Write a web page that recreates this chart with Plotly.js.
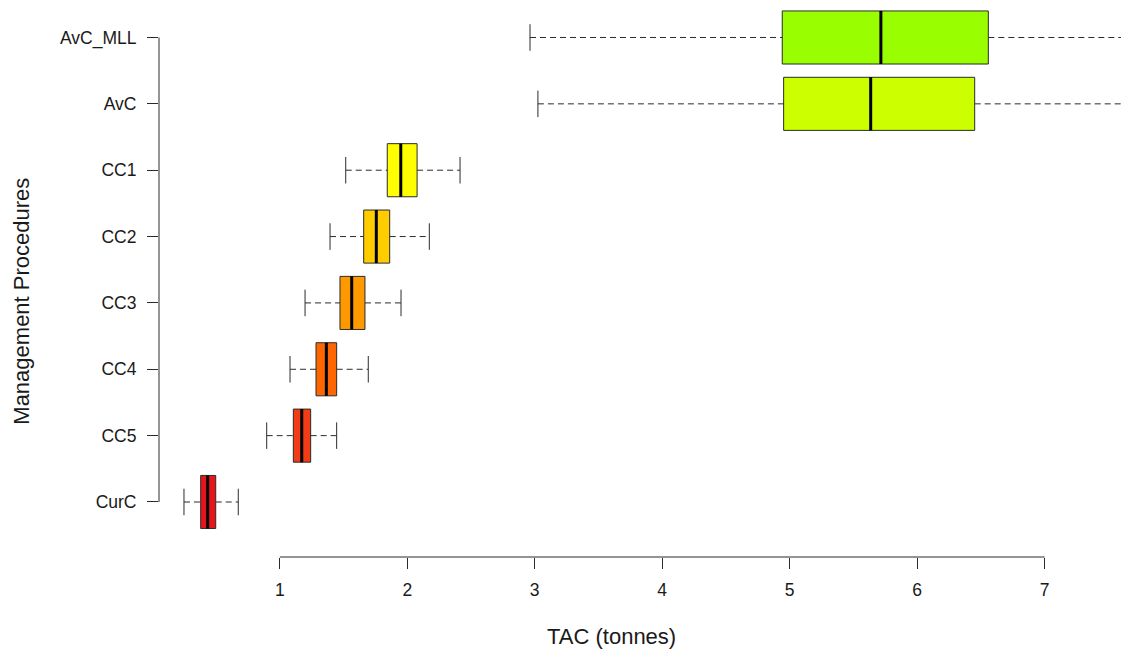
<!DOCTYPE html>
<html>
<head>
<meta charset="utf-8">
<script src="https://cdn.plot.ly/plotly-3.0.1.min.js"></script>
<style>
  html, body { margin: 0; padding: 0; background: #ffffff; overflow: hidden; }
  #chart { width: 1121px; height: 655px; }
</style>
</head>
<body>
<div id="chart"></div>
<script>
// Management procedures, bottom to top
const categories = ['CurC', 'CC5', 'CC4', 'CC3', 'CC2', 'CC1', 'AvC', 'AvC_MLL'];

// Five-number summaries of TAC (tonnes) per procedure
const whiskerLow  = [0.248, 0.897, 1.080, 1.198, 1.394, 1.517, 3.025, 2.963];
const q1          = [0.379, 1.106, 1.284, 1.472, 1.658, 1.843, 4.953, 4.942];
const median      = [0.434, 1.172, 1.365, 1.564, 1.757, 1.949, 5.636, 5.716];
const q3          = [0.497, 1.242, 1.446, 1.668, 1.862, 2.077, 6.452, 6.559];
const whiskerHigh = [0.674, 1.446, 1.694, 1.951, 2.173, 2.414, 7.85, 7.90];

const boxColors = ['#E8141C', '#F23D14', '#FF6600', '#FF9900', '#FFCC00', '#FFFF00', '#CCFF00', '#99FF00'];

const xTicks = [1, 2, 3, 4, 5, 6, 7];

// Box geometry in category units (base-R style boxwex / staplewex)
const boxWidth = 0.8;
const capWidth = boxWidth * 0.5;

const positions = categories.map((_, i) => i + 1);
const ink = '#2b2b2b';
const fontFamily = '"Liberation Sans", Arial, sans-serif';

const traces = [];

// Boxes: quartile rectangles only, whiskers are drawn separately (dashed)
categories.forEach((name, i) => {
  traces.push({
    type: 'box',
    orientation: 'h',
    name: name,
    y: [positions[i]],
    q1: [q1[i]],
    median: [median[i]],
    q3: [q3[i]],
    lowerfence: [q1[i]],
    upperfence: [q3[i]],
    width: boxWidth,
    whiskerwidth: 0,
    boxpoints: false,
    fillcolor: boxColors[i],
    line: { color: ink, width: 1 },
    hoverinfo: 'skip'
  });
});

// Dashed whiskers
const wx = [], wy = [];
categories.forEach((_, i) => {
  const p = positions[i];
  wx.push(whiskerLow[i], q1[i], null, q3[i], whiskerHigh[i], null);
  wy.push(p, p, null, p, p, null);
});
traces.push({
  type: 'scatter', mode: 'lines', x: wx, y: wy,
  line: { color: ink, width: 1, dash: '6px,4px' },
  hoverinfo: 'skip'
});

// Whisker end caps
const cx = [], cy = [];
categories.forEach((_, i) => {
  const p = positions[i];
  cx.push(whiskerLow[i], whiskerLow[i], null, whiskerHigh[i], whiskerHigh[i], null);
  cy.push(p - capWidth / 2, p + capWidth / 2, null, p - capWidth / 2, p + capWidth / 2, null);
});
traces.push({
  type: 'scatter', mode: 'lines', x: cx, y: cy,
  line: { color: ink, width: 1 },
  hoverinfo: 'skip'
});

// Heavy median bars
const mx = [], my = [];
categories.forEach((_, i) => {
  const p = positions[i];
  mx.push(median[i], median[i], null);
  my.push(p - boxWidth / 2, p + boxWidth / 2, null);
});
traces.push({
  type: 'scatter', mode: 'lines', x: mx, y: my,
  line: { color: '#000000', width: 3 },
  hoverinfo: 'skip'
});

const axisCommon = {
  showgrid: false,
  zeroline: false,
  showline: false,
  ticks: 'outside',
  ticklen: 11,
  tickwidth: 1,
  tickcolor: ink,
  tickfont: { family: fontFamily, size: 17.5, color: '#1a1a1a' },
  fixedrange: true
};

const layout = {
  width: 1121,
  height: 655,
  margin: { l: 159, r: 0, t: 0, b: 98 },
  paper_bgcolor: '#ffffff',
  plot_bgcolor: '#ffffff',
  showlegend: false,
  xaxis: Object.assign({}, axisCommon, {
    range: [0.052, 7.600],
    tickmode: 'array',
    tickvals: xTicks,
    ticktext: xTicks.map(String),
    ticklabelstandoff: 6
  }),
  yaxis: Object.assign({}, axisCommon, {
    range: [0.171, 8.565],
    tickmode: 'array',
    tickvals: positions,
    ticktext: categories,
    ticklabelstandoff: 7
  }),
  shapes: [
    // bottom axis line spanning first to last tick
    { type: 'line', xref: 'x', yref: 'paper',
      x0: xTicks[0], x1: xTicks[xTicks.length - 1], y0: 0, y1: 0,
      line: { color: ink, width: 1 } },
    // left axis line spanning first to last category
    { type: 'line', xref: 'paper', yref: 'y',
      x0: 0, x1: 0, y0: positions[0], y1: positions[positions.length - 1],
      line: { color: ink, width: 1 } }
  ],
  annotations: [
    { text: 'TAC (tonnes)', xref: 'paper', yref: 'paper',
      x: 0.4703, y: -0.1436, xanchor: 'center', yanchor: 'middle',
      showarrow: false, font: { family: fontFamily, size: 22, color: '#1a1a1a' } },
    { text: 'Management Procedures', xref: 'paper', yref: 'paper',
      x: -0.1425, y: 0.46, xanchor: 'center', yanchor: 'middle', textangle: -90,
      showarrow: false, font: { family: fontFamily, size: 22, color: '#1a1a1a' } }
  ]
};

Plotly.newPlot('chart', traces, layout, { displayModeBar: false, staticPlot: true });
</script>
</body>
</html>
